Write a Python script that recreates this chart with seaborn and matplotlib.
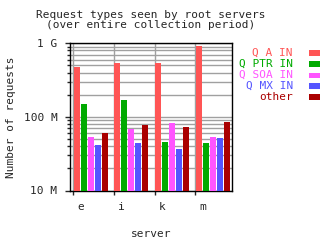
import matplotlib
matplotlib.use("Agg")
import matplotlib.pyplot as plt
import seaborn as sns
import pandas as pd
import numpy as np
from matplotlib.patches import Rectangle
from matplotlib.ticker import LogLocator, NullFormatter, FixedLocator

# ---- data (millions of requests) ----
servers = ["e", "i", "k", "m"]
series_names = ["Q A IN", "Q PTR IN", "Q SOA IN", "Q MX IN", "other"]
q_a_in = [471, 535, 535, 910]
q_ptr_in = [148, 168, 46, 44]
q_soa_in = [54, 68, 82, 53]
q_mx_in = [42, 44, 37, 52]
other = [60, 77, 74, 84]
colors = ["#ff5555", "#00aa00", "#ff55ff", "#5555ff", "#aa0000"]
ytick_vals = [1e7, 1e8, 1e9]
ytick_labels = ["10 M", "100 M", "1 G"]

series_vals = [q_a_in, q_ptr_in, q_soa_in, q_mx_in, other]
rows = []
for name, vals in zip(series_names, series_vals):
    for s, v in zip(servers, vals):
        rows.append({"server": s, "type": name, "count": v * 1e6})
df = pd.DataFrame(rows)

sns.set_style("white")
mono = "DejaVu Sans Mono"
plt.rcParams["font.family"] = [mono]
fs = 8

fig = plt.figure(figsize=(3.2, 2.4), dpi=100)
ax = fig.add_axes([70 / 320, 1 - 190.5 / 240, 162 / 320, (190.5 - 43.3) / 240])

sns.barplot(data=df, x="server", y="count", hue="type", hue_order=series_names,
            order=servers, palette=colors, width=0.86, gap=0.14,
            saturation=1, legend=False, ax=ax, zorder=3, log_scale=(False, True),
            edgecolor="none", linewidth=0)

ax.set_yscale("log")
ax.set_ylim(1e7, 1e9)
ax.set_xlim(-0.511, 3.472)

# y axis ticks
ax.yaxis.set_major_locator(FixedLocator(ytick_vals))
ax.set_yticklabels(ytick_labels, fontsize=fs)
ax.yaxis.set_minor_locator(LogLocator(base=10, subs=np.arange(2, 10)))
ax.yaxis.set_minor_formatter(NullFormatter())
ax.tick_params(axis="y", which="major", direction="out", length=3.6, width=1, pad=5.5, left=True)
ax.tick_params(axis="y", which="minor", direction="out", length=2.4, width=1, left=True)

# x axis: tick marks at group starts, labels offset
n = len(servers)
tick_pos = [i - 0.43 for i in range(n)]
label_pos = [i - 0.258 for i in range(n)]
ax.set_xticks(tick_pos)
ax.set_xticklabels([""] * n)
ax.set_xticks(label_pos, minor=True)
ax.set_xticklabels(servers, minor=True, fontsize=fs)
ax.tick_params(axis="x", which="major", direction="out", length=3, width=1, bottom=True)
ax.tick_params(axis="x", which="minor", length=0, pad=8)

# grid
ax.grid(True, which="major", axis="x", color="#a0a0a0", lw=1, zorder=0)
ax.grid(True, which="both", axis="y", color="#a0a0a0", lw=1, zorder=0)
ax.set_axisbelow(True)

for sp in ax.spines.values():
    sp.set_color("black")
    sp.set_linewidth(1)

ax.set_xlabel("")
ax.set_ylabel("")

# labels
fig.text(150.5 / 320, 1 - 15.5 / 240, "Request types seen by root servers",
         ha="center", va="center", fontsize=fs)
fig.text(150.5 / 320, 1 - 25.5 / 240, "(over entire collection period)",
         ha="center", va="center", fontsize=fs)
fig.text(11 / 320, 1 - 117 / 240, "Number of requests", rotation=90,
         ha="center", va="center", fontsize=fs)
fig.text(151.5 / 320, 1 - 234 / 240, "server", ha="center", va="center", fontsize=fs)

# legend (manual, right-aligned text + swatch)
for k, (name, col) in enumerate(zip(series_names, colors)):
    yc = 53 + 11 * k
    fig.text(293 / 320, 1 - yc / 240, name, color=col, ha="right", va="center", fontsize=fs)
    fig.patches.append(Rectangle((309 / 320, 1 - (yc + 2.5) / 240), 11 / 320, 5 / 240,
                                 transform=fig.transFigure, facecolor=col, edgecolor="none"))

fig.savefig("out.png", dpi=100)
